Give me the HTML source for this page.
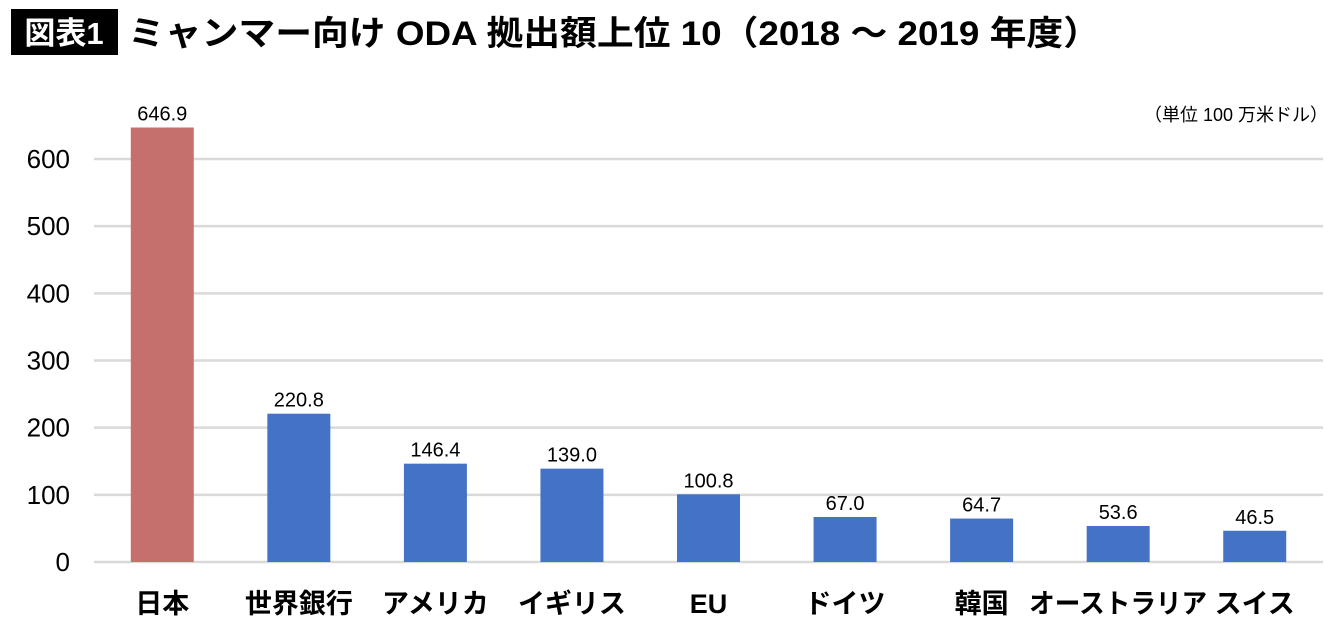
<!DOCTYPE html>
<html><head><meta charset="utf-8"><style>
body{margin:0;width:1340px;height:629px;background:#fff;overflow:hidden;font-family:"Liberation Sans","Noto Sans CJK JP",sans-serif;}
svg{display:block}
</style></head><body>
<svg id="c" width="1340" height="629" xmlns="http://www.w3.org/2000/svg">
<rect x="11" y="9" width="107" height="46" fill="#000"/>
<text x="64" y="44" text-anchor="middle" fill="#fff" font-size="31" font-weight="bold" font-family="Liberation Sans,Noto Sans CJK JP,sans-serif">図表1</text>
<text x="128" y="45" fill="#000" font-size="34" font-weight="bold" textLength="972" lengthAdjust="spacingAndGlyphs" font-family="Liberation Sans,Noto Sans CJK JP,sans-serif">ミャンマー向け ODA 拠出額上位 10（2018 ～ 2019 年度）</text>
<text x="1328" y="121" text-anchor="end" fill="#000" font-size="18" font-family="Liberation Sans,Noto Sans CJK JP,sans-serif">（単位 100 万米ドル）</text>
<g id="grid"></g><g id="bars"></g><g id="labels"></g>
</svg>
<script>
const categories=["日本","世界銀行","アメリカ","イギリス","EU","ドイツ","韓国","オーストラリア","スイス"];
const values=[646.9,220.8,146.4,139.0,100.8,67.0,64.7,53.6,46.5];
const valueLabels=["646.9","220.8","146.4","139.0","100.8","67.0","64.7","53.6","46.5"];
const ticks=[0,100,200,300,400,500,600];
const NS="http://www.w3.org/2000/svg";
const x0=94,x1=1323,y0=562,yTop=159,vMax=600;
const y=v=>y0-(v/vMax)*(y0-yTop);
const band=(x1-x0)/categories.length;
const xc=i=>x0+band*(i+0.5);
function mk(t,a,p){const e=document.createElementNS(NS,t);for(const k in a)e.setAttribute(k,a[k]);p.appendChild(e);return e;}
const g=document.getElementById('grid'),b=document.getElementById('bars'),l=document.getElementById('labels');
ticks.forEach((t,i)=>{
 const ln=mk('line',{x1:x0,x2:x1,y1:y(t),y2:y(t),stroke:'#d9d9d9','stroke-width':2.5},g);
 
 
 const tx=mk('text',{x:70,y:y(t)+9,'text-anchor':'end','font-size':26,fill:'#000'},g);
 tx.textContent=t;
 
 
});
categories.forEach((c,i)=>{
 const w=63;
 const r=mk('rect',{x:xc(i)-w/2,y:y(values[i]),width:w,height:y0-y(values[i]),fill:i===0?'#c5706d':'#4472c4'},b);
 
 
 const v=mk('text',{x:xc(i),y:y(values[i])-7,'text-anchor':'middle','font-size':20,fill:'#000'},l);
 v.textContent=valueLabels[i];
 
 
 const ct=mk('text',{x:xc(i),y:613,'text-anchor':'middle','font-size':27,'font-weight':'bold',fill:'#000'},l);
 ct.textContent=c;
 if(c.length>5){ct.setAttribute('textLength','178');ct.setAttribute('lengthAdjust','spacingAndGlyphs');}
 
 
});
</script>
</body></html>
